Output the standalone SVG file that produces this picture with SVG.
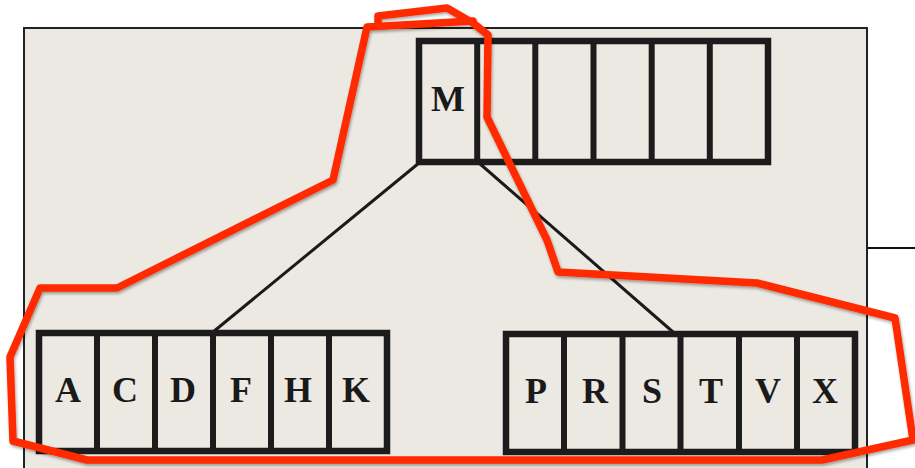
<svg xmlns="http://www.w3.org/2000/svg" width="915" height="468" viewBox="0 0 915 468">
  <style>
    .box { fill: #ece8e2; stroke: #1c1c1c; stroke-width: 6.5; }
    .div { stroke: #1c1c1c; stroke-width: 6; }
    .lbl { font-family: "Liberation Serif", "Times New Roman", serif; font-weight: bold; font-size: 36px; fill: #1a1a1a; text-anchor: middle; }
    .edge { stroke: #1a1a1a; stroke-width: 3; fill: none; }
    .red { fill: none; stroke: #ff2a00; stroke-width: 7.5; stroke-linejoin: round; stroke-linecap: round; }
  </style>
  <defs>
    <filter id="sh" x="-5%" y="-5%" width="110%" height="110%">
      <feDropShadow dx="1" dy="2" stdDeviation="1.5" flood-color="#000" flood-opacity="0.35"/>
    </filter>
  </defs>
  <rect width="915" height="468" fill="#ffffff"/>
  <rect x="24" y="28" width="843" height="445" fill="#ece8e2" stroke="#222" stroke-width="2"/>
  <line x1="867" y1="248" x2="915" y2="248" stroke="#111" stroke-width="2"/>

  <g id="connectors">
    <line class="edge" x1="419" y1="163" x2="213" y2="332"/>
    <line class="edge" x1="479" y1="163" x2="673" y2="332"/>
  </g>

  <g id="root">
    <rect class="box" x="419" y="41" width="349" height="121"/>
    <line class="div" x1="477.2" y1="41" x2="477.2" y2="162"/>
    <line class="div" x1="535.3" y1="41" x2="535.3" y2="162"/>
    <line class="div" x1="593.5" y1="41" x2="593.5" y2="162"/>
    <line class="div" x1="651.7" y1="41" x2="651.7" y2="162"/>
    <line class="div" x1="709.8" y1="41" x2="709.8" y2="162"/>
    <text class="lbl" x="448" y="111">M</text>
  </g>

  <g id="leaf-left">
    <rect class="box" x="39" y="333" width="348" height="118"/>
    <line class="div" x1="97" y1="333" x2="97" y2="451"/>
    <line class="div" x1="155" y1="333" x2="155" y2="451"/>
    <line class="div" x1="213" y1="333" x2="213" y2="451"/>
    <line class="div" x1="271" y1="333" x2="271" y2="451"/>
    <line class="div" x1="329" y1="333" x2="329" y2="451"/>
    <text class="lbl" x="68" y="402">A</text>
    <text class="lbl" x="125" y="402">C</text>
    <text class="lbl" x="183" y="402">D</text>
    <text class="lbl" x="241" y="402">F</text>
    <text class="lbl" x="298" y="402">H</text>
    <text class="lbl" x="356" y="402">K</text>
  </g>

  <g id="leaf-right">
    <rect class="box" x="506" y="334" width="349" height="118"/>
    <line class="div" x1="564" y1="334" x2="564" y2="452"/>
    <line class="div" x1="622.5" y1="334" x2="622.5" y2="452"/>
    <line class="div" x1="680.5" y1="334" x2="680.5" y2="452"/>
    <line class="div" x1="739" y1="334" x2="739" y2="452"/>
    <line class="div" x1="797" y1="334" x2="797" y2="452"/>
    <text class="lbl" x="536" y="403">P</text>
    <text class="lbl" x="595" y="403">R</text>
    <text class="lbl" x="652" y="403">S</text>
    <text class="lbl" x="711" y="403">T</text>
    <text class="lbl" x="768" y="403">V</text>
    <text class="lbl" x="825" y="403">X</text>
  </g>

  <g id="outline" filter="url(#sh)">
    <path class="red" d="M 378 22 L 378 16 L 447 8 L 473 23 L 488 35 L 487 117 L 547 240 L 558 272 L 757 283 L 895 318 L 913 440 L 822 460 L 87 460 L 13 441 L 10 357 L 40 288 L 117 288 L 333 180 L 367 27 L 473 21"/>
  </g>
</svg>
